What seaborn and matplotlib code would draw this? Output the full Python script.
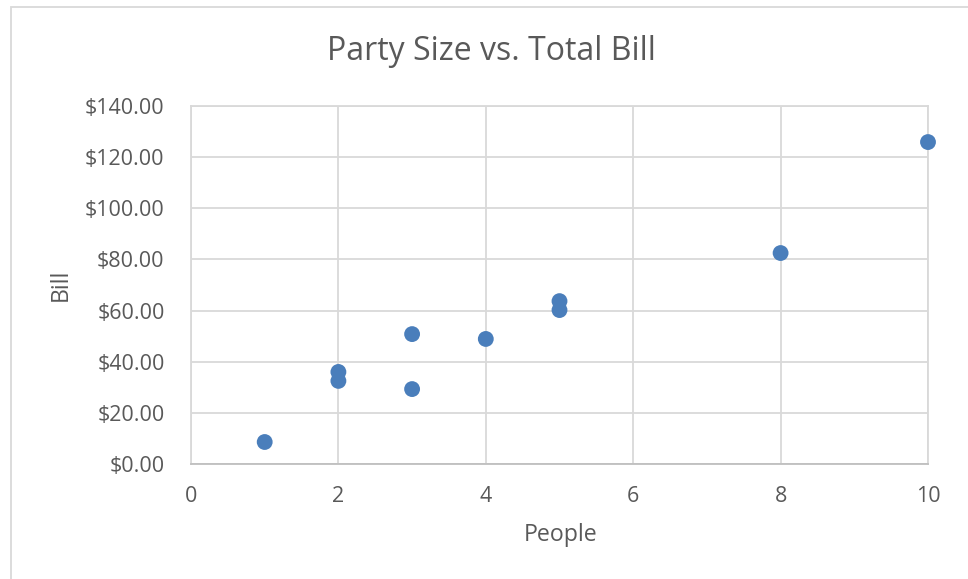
import matplotlib
matplotlib.use("Agg")
import matplotlib.pyplot as plt
import seaborn as sns
import pandas as pd
from matplotlib.patches import Rectangle
from matplotlib.ticker import FuncFormatter, MultipleLocator

people = [1, 2, 2, 3, 3, 4, 5, 5, 8, 10]
bill = [8.6, 36.0, 32.5, 50.8, 29.3, 48.9, 63.7, 60.2, 82.5, 125.9]
title = "Party Size vs. Total Bill"
x_label = "People"
y_label = "Bill"

sns.set_theme(style="white")
plt.rcParams['font.family'] = ['Open Sans', 'DejaVu Sans']

df = pd.DataFrame({"People": people, "Bill": bill})

W, H = 968, 579
fig = plt.figure(figsize=(W/100, H/100), dpi=100)
ax = fig.add_axes([191/W, 1-464/H, (928-191)/W, (464-106)/H])

grid_c = "#D9D9D9"
text_c = "#595959"

sns.scatterplot(data=df, x="People", y="Bill", ax=ax, s=130, color="#4A7EBB",
                edgecolor="none", zorder=3, clip_on=False)

ax.set_xlim(0, 10)
ax.set_ylim(0, 140)
ax.xaxis.set_major_locator(MultipleLocator(2))
ax.yaxis.set_major_locator(MultipleLocator(20))
ax.yaxis.set_major_formatter(FuncFormatter(lambda v, p: f"${v:,.2f}"))
ax.grid(True, color=grid_c, linewidth=1.3)
for s in ax.spines.values():
    s.set_color(grid_c)
    s.set_linewidth(1.3)
ax.spines['bottom'].set_color("#BFBFBF")
ax.tick_params(axis='both', length=0, labelsize=15.5, colors=text_c)
ax.tick_params(axis='y', pad=19)
ax.tick_params(axis='x', pad=16)
ax.set_xlabel("")
ax.set_ylabel("")

fig.text(561/W, 1-535/H, x_label, fontsize=16.7, color=text_c, ha="center", va="center")
fig.text(61/W, 1-285/H, y_label, fontsize=16.7, color=text_c, ha="center", va="center",
         rotation=90)
fig.text(491/W, 1-51/H, title, fontsize=23, color=text_c, ha="center", va="center")

fig.patches.append(Rectangle((11/W, -0.1), 1.2, 1-7/H+0.1, transform=fig.transFigure,
                             fill=False, edgecolor=grid_c, linewidth=1.3, zorder=0))

fig.savefig("out.png", dpi=100)
